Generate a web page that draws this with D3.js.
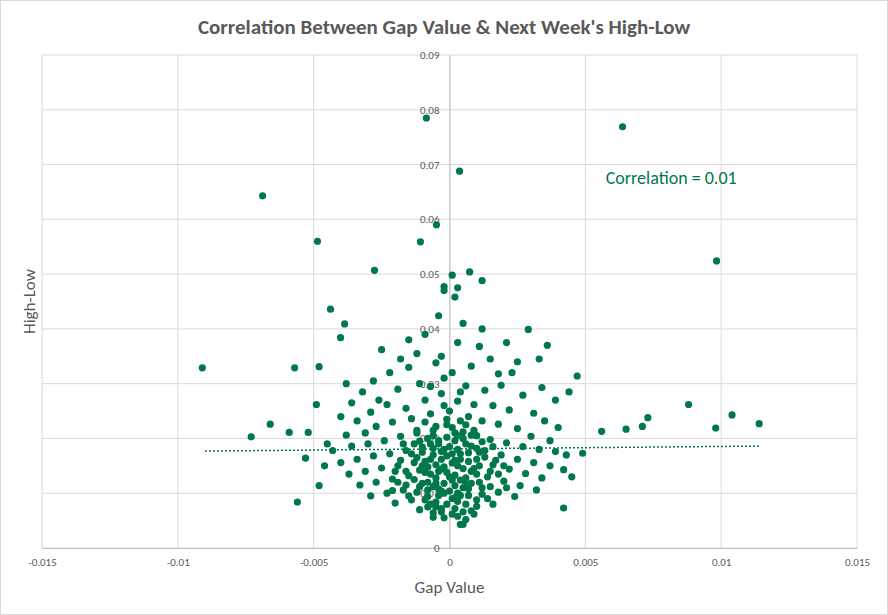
<!DOCTYPE html>
<html><head><meta charset="utf-8">
<script src="https://cdn.jsdelivr.net/npm/d3@7"></script>
<style>body{margin:0;background:#fff;font-family:Carlito,Calibri,"Open Sans",sans-serif}</style>
</head><body><div id="vis"></div>
<script>
// Gap value / next week's high-low
const points = [
  [-0.00085,0.0785],[0.00637,0.0769],[0.00037,0.0688],[-0.00688,0.0643],[-0.00048,0.059],
  [-0.00486,0.056],[-0.00107,0.0559],[0.00983,0.0524],[-0.00276,0.0507],[0.00074,0.0504],
  [0.0001,0.0498],[0.0003,0.0475],[-0.0002,0.0477],[0.0002,0.0458],[-0.0002,0.0470],[0.0012,0.0488],
  [-0.00438,0.0436],[-0.00386,0.0409],[-0.00401,0.0384],[-0.0091,0.0329],[-0.0057,0.0329],
  [-0.0048,0.0331],[-0.0049,0.0262],[-0.0066,0.0226],[-0.0073,0.0203],[-0.0059,0.0211],
  [-0.0052,0.0211],[-0.0053,0.0164],[-0.0048,0.0114],[-0.0056,0.0084],[-0.0007,0.0080],
  [0.0042,0.0073],[0.0049,0.0173],[0.0042,0.0143],[0.0044,0.0285],[0.0047,0.0314],
  [0.0088,0.0262],[0.0098,0.0219],[0.0104,0.0243],[0.0114,0.0227],[0.0073,0.0238],
  [0.0065,0.0217],[0.0056,0.0213],[0.0071,0.0222],[0.0034,0.0293],[0.0033,0.0345],
  [0.0036,0.0370],[0.0029,0.0399],[0.0004,0.0043],[0.0005,0.0043],[-0.0005,0.0075],
  [-0.0004,0.0424],[0.0005,0.0410],[-0.0009,0.0390],[0.0011,0.0368],[0.0021,0.0375],
  [-0.0012,0.0355],[-0.0018,0.0345],[-0.0025,0.0362],[0.0015,0.0345],[0.0025,0.0340],
  [-0.0028,0.0305],[-0.0022,0.0320],[-0.0015,0.0330],[-0.0005,0.0338],[0.0008,0.0332],
  [0.0018,0.0318],[0.0023,0.0320],[-0.0032,0.0285],[-0.0036,0.0265],[-0.0026,0.0270],
  [-0.0019,0.0290],[-0.0011,0.0300],[-0.0002,0.0310],[0.0006,0.0296],[0.0013,0.0288],
  [0.0019,0.0297],[0.0027,0.0279],[-0.0040,0.0240],[-0.0034,0.0232],[-0.0029,0.0248],
  [-0.0023,0.0262],[-0.0016,0.0255],[-0.0009,0.0270],[-0.0003,0.0282],[0.0003,0.0268],
  [0.0009,0.0262],[0.0016,0.0260],[0.0022,0.0252],[0.0031,0.0246],[0.0035,0.0232],
  [-0.0038,0.0206],[-0.0031,0.0210],[-0.0027,0.0222],[-0.0021,0.0230],[-0.0014,0.0236],
  [-0.0007,0.0245],[0.0000,0.0250],[0.0007,0.0240],[0.0012,0.0232],[0.0018,0.0226],
  [0.0025,0.0218],[0.0030,0.0204],[0.0037,0.0196],[-0.0043,0.0178],[-0.0036,0.0186],
  [-0.0030,0.0190],[-0.0024,0.0196],[-0.0018,0.0204],[-0.0012,0.0210],[-0.0006,0.0215],
  [0.0001,0.0220],[0.0005,0.0212],[0.0010,0.0205],[0.0015,0.0198],[0.0021,0.0192],
  [0.0027,0.0185],[0.0033,0.0180],[0.0039,0.0176],[-0.0040,0.0156],[-0.0034,0.0162],
  [-0.0028,0.0168],[-0.0022,0.0172],[-0.0016,0.0178],[-0.0010,0.0184],[-0.0004,0.0190],
  [0.0002,0.0196],[0.0008,0.0186],[0.0013,0.0178],[0.0019,0.0170],[0.0025,0.0162],
  [0.0031,0.0156],[0.0037,0.0150],[-0.0037,0.0135],[-0.0031,0.0140],[-0.0025,0.0146],
  [-0.0019,0.0150],[-0.0013,0.0156],[-0.0007,0.0162],[-0.0001,0.0168],[0.0004,0.0172],
  [0.0010,0.0162],[0.0016,0.0152],[0.0022,0.0144],[0.0028,0.0136],[0.0034,0.0128],
  [-0.0033,0.0115],[-0.0027,0.0120],[-0.0021,0.0126],[-0.0015,0.0132],[-0.0009,0.0138],
  [-0.0003,0.0144],[0.0003,0.0150],[0.0008,0.0140],[0.0014,0.0130],[0.0020,0.0122],
  [0.0026,0.0114],[0.0032,0.0106],[-0.0029,0.0095],[-0.0023,0.0100],[-0.0017,0.0106],
  [-0.0011,0.0112],[-0.0005,0.0118],[0.0001,0.0124],[0.0006,0.0118],[0.0012,0.0110],
  [0.0018,0.0102],[0.0024,0.0094],[-0.0020,0.0082],[-0.0014,0.0088],[-0.0008,0.0094],
  [-0.0002,0.0100],[0.0004,0.0096],[0.0010,0.0088],[0.0016,0.0080],[-0.0011,0.0070],
  [-0.0003,0.0066],[0.0002,0.0072],[0.0008,0.0068],[-0.0006,0.0056],[0.0003,0.0058],
  [-0.0006,0.0205],[-0.0002,0.0180],[0.0002,0.0160],[-0.0004,0.0140],[0.0000,0.0130],
  [-0.0008,0.0120],[0.0005,0.0110],[-0.0003,0.0104],[0.0001,0.0090],[-0.0010,0.0150],
  [0.0009,0.0145],[-0.0006,0.0170],[0.0006,0.0190],[-0.0001,0.0235],[0.0003,0.0205],
  [-0.0013,0.0190],[0.0011,0.0175],[-0.0009,0.0230],[0.0006,0.0225],[-0.0002,0.0260],
  [0.0004,0.0285],[-0.0007,0.0295],[0.0001,0.0320],[-0.0003,0.0350],[0.0003,0.0375],
  [-0.0015,0.0380],[0.0012,0.0400],[-0.0045,0.0190],[0.0043,0.0170],[0.0040,0.0220],
  [-0.0046,0.0150],[0.0045,0.0130],[-0.0038,0.0300],[0.0039,0.0270],
  // dense core
  [-0.0012,0.0165],[-0.0009,0.0158],[-0.0005,0.0152],[-0.0002,0.0148],[0.0001,0.0155],
  [0.0004,0.0162],[0.0007,0.0158],[0.0011,0.0150],[-0.0011,0.0142],[-0.0007,0.0135],
  [-0.0001,0.0138],[0.0002,0.0133],[0.0006,0.0128],[0.0010,0.0135],[-0.0013,0.0125],
  [-0.0010,0.0118],[-0.0006,0.0112],[-0.0002,0.0118],[0.0002,0.0114],[0.0007,0.0108],
  [0.0011,0.0120],[-0.0012,0.0102],[-0.0008,0.0106],[-0.0004,0.0096],[0.0000,0.0104],
  [0.0003,0.0100],[0.0007,0.0096],[0.0012,0.0098],[-0.0009,0.0088],[-0.0005,0.0084],
  [-0.0001,0.0080],[0.0003,0.0085],[0.0006,0.0080],[0.0010,0.0076],[-0.0008,0.0075],
  [-0.0003,0.0072],[0.0001,0.0062],[0.0005,0.0066],[-0.0002,0.0055],[0.0006,0.0052],
  [-0.0010,0.0175],[-0.0006,0.0182],[-0.0003,0.0176],[0.0000,0.0185],[0.0003,0.0180],
  [0.0007,0.0174],[0.0010,0.0182],[0.0013,0.0166],[-0.0014,0.0172],[-0.0011,0.0195],
  [-0.0008,0.0200],[-0.0004,0.0196],[-0.0001,0.0202],[0.0002,0.0210],[0.0005,0.0200],
  [0.0008,0.0206],[0.0012,0.0194],[-0.0016,0.0140],[0.0015,0.0140],[-0.0016,0.0115],
  [0.0015,0.0112],[-0.0015,0.0095],[0.0014,0.0090],[-0.0005,0.0128],[0.0004,0.0124],
  [-0.0008,0.0148],[0.0008,0.0118],[-0.0003,0.0162],[0.0001,0.0172],[-0.0007,0.0190],
  [0.0005,0.0145],[-0.0004,0.0108],[0.0002,0.0092],[-0.0006,0.0064],[0.0009,0.0062],
  [-0.0001,0.0225],[0.0004,0.0232],[-0.0005,0.0222],[0.0009,0.0215],[-0.0012,0.0215],
  [-0.0018,0.0160],[0.0017,0.0160],[-0.0019,0.0120],[0.0018,0.0135],[-0.0017,0.0190],
  [0.0016,0.0185],[-0.0020,0.0140],[0.0020,0.0150],[-0.0021,0.0105],[0.0021,0.0110]
];
const gapX = points.map(p => p[0]);
const highLow = points.map(p => p[1]);
const trendX = [-0.009, 0.0114];
const trendY = [0.0177, 0.0186];
const xTicks = [-0.015, -0.01, -0.005, 0, 0.005, 0.01, 0.015];
const yTicks = [0, 0.01, 0.02, 0.03, 0.04, 0.05, 0.06, 0.07, 0.08, 0.09];

const W = 888, H = 615;
const margin = {top: 55, right: 31, bottom: 67, left: 42};
const width = W - margin.left - margin.right;
const height = H - margin.top - margin.bottom;
const green = '#00784A', grey = '#595959';
const font = 'Carlito,Calibri,"Open Sans",sans-serif';

const root = d3.select('#vis').append('svg').attr('width', W).attr('height', H)
  .style('font-family', font);
root.append('rect').attr('x', 0.5).attr('y', 0.5).attr('width', W - 1).attr('height', H - 1)
  .attr('fill', '#fff').attr('stroke', '#d9d9d9');

const svg = root.append('g').attr('transform', `translate(${margin.left},${margin.top})`);
const x = d3.scaleLinear().domain([-0.015, 0.015]).range([0, width]);
const y = d3.scaleLinear().domain([0, 0.09]).range([height, 0]);

// grid
svg.selectAll('.gx').data(xTicks).enter().append('line')
  .attr('x1', d => x(d)).attr('x2', d => x(d)).attr('y1', 0).attr('y2', height)
  .attr('stroke', '#d9d9d9');
svg.selectAll('.gy').data(yTicks).enter().append('line')
  .attr('x1', 0).attr('x2', width).attr('y1', d => y(d)).attr('y2', d => y(d))
  .attr('stroke', '#d9d9d9');

// axes
const fmt = d => d === 0 ? '0' : String(+d.toFixed(3));
const xAxis = svg.append('g').attr('transform', `translate(0,${height})`)
  .call(d3.axisBottom(x).tickValues(xTicks).tickSize(0).tickPadding(10).tickFormat(fmt));
xAxis.select('.domain').attr('stroke', '#bfbfbf');
const yAxis = svg.append('g').attr('transform', `translate(${x(0)},0)`)
  .call(d3.axisLeft(y).tickValues(yTicks).tickSize(0).tickPadding(10).tickFormat(fmt));
yAxis.select('.domain').attr('stroke', '#bfbfbf');
svg.selectAll('.tick text').attr('fill', grey).style('font-size', '11px').style('font-family', font);

// points
svg.selectAll('circle').data(points).enter().append('circle')
  .attr('cx', (d, i) => x(gapX[i])).attr('cy', (d, i) => y(highLow[i]))
  .attr('r', 3.6).attr('fill', green);

// trend line
svg.append('line')
  .attr('x1', x(trendX[0])).attr('y1', y(trendY[0]))
  .attr('x2', x(trendX[1])).attr('y2', y(trendY[1]))
  .attr('stroke', green).attr('stroke-width', 1.5).attr('stroke-dasharray', '2,2');

svg.append('text').attr('x', x(0.00575)).attr('y', y(0.0665))
  .attr('fill', green).style('font-size', '18px').text('Correlation = 0.01');

root.append('text').attr('x', W / 2).attr('y', 34).attr('text-anchor', 'middle')
  .attr('fill', grey).style('font-size', '21px').style('font-weight', 'bold')
  .text("Correlation Between Gap Value & Next Week's High-Low");
root.append('text').attr('x', margin.left + width / 2).attr('y', 593).attr('text-anchor', 'middle')
  .attr('fill', grey).style('font-size', '17px').text('Gap Value');
root.append('text').attr('transform', `translate(35,${margin.top + height / 2}) rotate(-90)`)
  .attr('text-anchor', 'middle').attr('fill', grey).style('font-size', '17px').text('High-Low');
</script></body></html>
